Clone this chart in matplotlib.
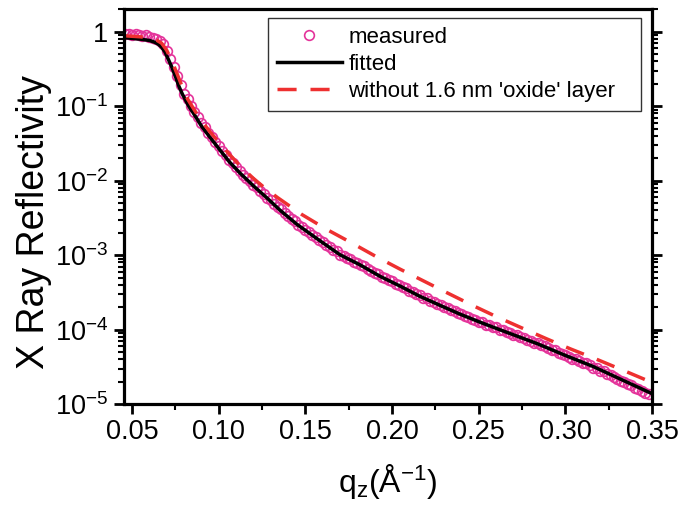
import matplotlib
matplotlib.use("Agg")
import math
import matplotlib.pyplot as plt
from matplotlib.ticker import LogLocator, MultipleLocator, FuncFormatter, NullFormatter

plt.rcParams['font.family'] = ['Liberation Sans', 'DejaVu Sans']
plt.rcParams['mathtext.fontset'] = 'custom'
plt.rcParams['mathtext.rm'] = 'Liberation Sans'
plt.rcParams['mathtext.it'] = 'Liberation Sans'

q_meas = [0.046, 0.048, 0.050, 0.052, 0.054, 0.056, 0.058, 0.060, 0.062, 0.064,
          0.066, 0.068, 0.070, 0.072, 0.074, 0.076, 0.078, 0.080, 0.082, 0.084,
          0.086, 0.088, 0.090, 0.092, 0.094, 0.096, 0.098, 0.100, 0.102, 0.104,
          0.106, 0.108, 0.110, 0.112, 0.114, 0.116, 0.118, 0.120, 0.122, 0.124,
          0.126, 0.128, 0.130, 0.132, 0.134, 0.136, 0.138, 0.140, 0.142, 0.144,
          0.146, 0.148, 0.150, 0.152, 0.154, 0.156, 0.158, 0.160, 0.162, 0.164,
          0.166, 0.168, 0.170, 0.172, 0.174, 0.176, 0.178, 0.180, 0.182, 0.184,
          0.186, 0.188, 0.190, 0.192, 0.194, 0.196, 0.198, 0.200, 0.202, 0.204,
          0.206, 0.208, 0.210, 0.212, 0.214, 0.216, 0.218, 0.220, 0.222, 0.224,
          0.226, 0.228, 0.230, 0.232, 0.234, 0.236, 0.238, 0.240, 0.242, 0.244,
          0.246, 0.248, 0.250, 0.252, 0.254, 0.256, 0.258, 0.260, 0.262, 0.264,
          0.266, 0.268, 0.270, 0.272, 0.274, 0.276, 0.278, 0.280, 0.282, 0.284,
          0.286, 0.288, 0.290, 0.292, 0.294, 0.296, 0.298, 0.300, 0.302, 0.304,
          0.306, 0.308, 0.310, 0.312, 0.314, 0.316, 0.318, 0.320, 0.322, 0.324,
          0.326, 0.328, 0.330, 0.332, 0.334, 0.336, 0.338, 0.340, 0.342, 0.344,
          0.346, 0.348]
r_meas = [0.93, 0.94, 0.89, 0.92, 0.89, 0.88, 0.89, 0.85, 0.82, 0.80,
          0.75, 0.68, 0.55, 0.43, 0.33, 0.25, 0.19, 0.147, 0.123, 0.10,
          0.084, 0.072, 0.059, 0.053, 0.044, 0.039, 0.033, 0.0295, 0.0253, 0.0222,
          0.0191, 0.0174, 0.0150, 0.0134, 0.0120, 0.0107, 0.0099, 0.0087, 0.0081, 0.0072,
          0.0066, 0.0059, 0.00546, 0.00483, 0.00447, 0.00417, 0.00363, 0.00339, 0.00302, 0.00288,
          0.00257, 0.0024, 0.00216, 0.00204, 0.00186, 0.00176, 0.00158, 0.00151, 0.00136, 0.00129,
          0.00117, 0.00112, 0.00101, 9.8e-4, 9.1e-4, 8.8e-4, 8.1e-4, 7.9e-4, 7.3e-4, 7.1e-4,
          6.5e-4, 6.2e-4, 5.75e-4, 5.5e-4, 5.1e-4, 4.95e-4, 4.57e-4, 4.47e-4, 4.12e-4, 3.98e-4,
          3.72e-4, 3.59e-4, 3.31e-4, 3.24e-4, 2.99e-4, 2.88e-4, 2.69e-4, 2.63e-4, 2.43e-4, 2.37e-4,
          2.19e-4, 2.14e-4, 2.0e-4, 1.95e-4, 1.82e-4, 1.78e-4, 1.66e-4, 1.62e-4, 1.51e-4, 1.48e-4,
          1.40e-4, 1.36e-4, 1.27e-4, 1.26e-4, 1.17e-4, 1.16e-4, 1.08e-4, 1.07e-4, 1.0e-4, 9.8e-5,
          9.2e-5, 9.1e-5, 8.5e-5, 8.4e-5, 7.85e-5, 7.7e-5, 7.25e-5, 7.1e-5, 6.7e-5, 6.55e-5,
          6.15e-5, 6.0e-5, 5.6e-5, 5.4e-5, 5.25e-5, 4.9e-5, 4.7e-5, 4.57e-5, 4.27e-5, 4.07e-5,
          4.03e-5, 3.76e-5, 3.59e-5, 3.55e-5, 3.31e-5, 3.09e-5, 3.02e-5, 2.82e-5, 2.75e-5, 2.57e-5,
          2.48e-5, 2.32e-5, 2.19e-5, 2.04e-5, 2.0e-5, 1.86e-5, 1.78e-5, 1.66e-5, 1.62e-5, 1.51e-5,
          1.43e-5, 1.35e-5]

# fitted model
q_fit = [0.0452, 0.050, 0.055, 0.060, 0.063, 0.065, 0.067, 0.069, 0.071, 0.073,
         0.075, 0.077, 0.079, 0.081, 0.083, 0.085, 0.087, 0.090, 0.095, 0.100,
         0.106, 0.1123, 0.120, 0.128, 0.1354, 0.145, 0.158, 0.170, 0.1815, 0.193,
         0.205, 0.216, 0.228, 0.239, 0.2507, 0.262, 0.2836, 0.300, 0.316, 0.333, 0.35]
r_fit = [0.83, 0.81, 0.79, 0.76, 0.72, 0.68, 0.62, 0.53, 0.42, 0.33,
         0.25, 0.185, 0.145, 0.118, 0.097, 0.083, 0.070, 0.054, 0.038, 0.027,
         0.018, 0.0126, 0.0085, 0.0058, 0.0040, 0.0026, 0.00158, 0.00101, 7.4e-4, 5.2e-4,
         3.8e-4, 2.8e-4, 2.1e-4, 1.62e-4, 1.26e-4, 1.0e-4, 6.5e-5, 4.5e-5, 3.2e-5, 2.1e-5, 1.38e-5]

# model without the oxide layer
q_nox = [0.0452, 0.055, 0.060, 0.064, 0.067, 0.070, 0.073, 0.076, 0.079, 0.082,
         0.086, 0.090, 0.095, 0.100, 0.1065, 0.113, 0.1198, 0.127, 0.134, 0.148,
         0.1625, 0.1757, 0.191, 0.2045, 0.219, 0.232, 0.2467, 0.260, 0.275, 0.2893,
         0.303, 0.318, 0.334, 0.35]
r_nox = [0.88, 0.85, 0.82, 0.77, 0.70, 0.56, 0.40, 0.27, 0.18, 0.125,
         0.088, 0.064, 0.045, 0.033, 0.022, 0.0152, 0.0108, 0.0078, 0.0059, 0.0035,
         0.0022, 0.0015, 9.5e-4, 6.5e-4, 4.4e-4, 3.1e-4, 2.1e-4, 1.5e-4, 1.05e-4, 7.5e-5,
         5.5e-5, 4.0e-5, 2.8e-5, 1.95e-5]

fig = plt.figure(figsize=(6.8, 5.09), dpi=100)
ax = fig.add_axes([0.182, 0.206, 0.777, 0.776])

ax.plot(q_meas, r_meas, 'o', mfc='none', mec='#E4339A', ms=7, mew=1.2, label='measured')
ax.plot(q_fit, r_fit, '-', color='black', lw=2.5, label='fitted')
ax.plot(q_nox, r_nox, '--', color='#EE3030', lw=2.5, dashes=(5.5, 4),
        label="without 1.6 nm 'oxide' layer")

ax.set_yscale('log')
ax.set_xlim(0.0452, 0.35)
ax.set_ylim(1e-5, 2.0)

ax.xaxis.set_major_locator(MultipleLocator(0.05))
ax.xaxis.set_minor_locator(MultipleLocator(0.025))
ax.xaxis.set_major_formatter(FuncFormatter(lambda v, p: f"{v:.2f}"))
ax.yaxis.set_major_locator(LogLocator(base=10, numticks=10))
ax.yaxis.set_minor_locator(LogLocator(base=10, subs=range(2, 10), numticks=20))
ax.yaxis.set_minor_formatter(NullFormatter())


def yfmt(v, p):
    if abs(v - 1) < 1e-9:
        return '1'
    e = int(round(math.log10(v)))
    return r'$10^{\mathrm{-%d}}$' % abs(e)


ax.yaxis.set_major_formatter(FuncFormatter(yfmt))

for s in ax.spines.values():
    s.set_linewidth(2.3)
ax.tick_params(which='major', direction='out', length=7, width=2, labelsize=19.5,
               left=True, right=True, bottom=True, top=False, pad=4)
ax.tick_params(which='minor', direction='out', length=4, width=1.5,
               left=True, right=True, bottom=True, top=False)

ax.set_xlabel(r'q$_\mathrm{z}$(Å$^\mathrm{-1}$)', fontsize=23, labelpad=12)
ax.set_ylabel('X Ray Reflectivity', fontsize=27)
ax.yaxis.set_label_coords(-0.135, 0.462)

leg = ax.legend(loc='upper left', bbox_to_anchor=(0.2734, 0.75, 0.706, 0.228),
                mode='expand', fontsize=16, frameon=True, fancybox=False,
                handlelength=2.9, borderpad=0.4, labelspacing=0.28,
                handletextpad=0.3, borderaxespad=0)
leg.get_frame().set_edgecolor('black')
leg.get_frame().set_linewidth(1.0)

fig.savefig('out.png', dpi=100)
